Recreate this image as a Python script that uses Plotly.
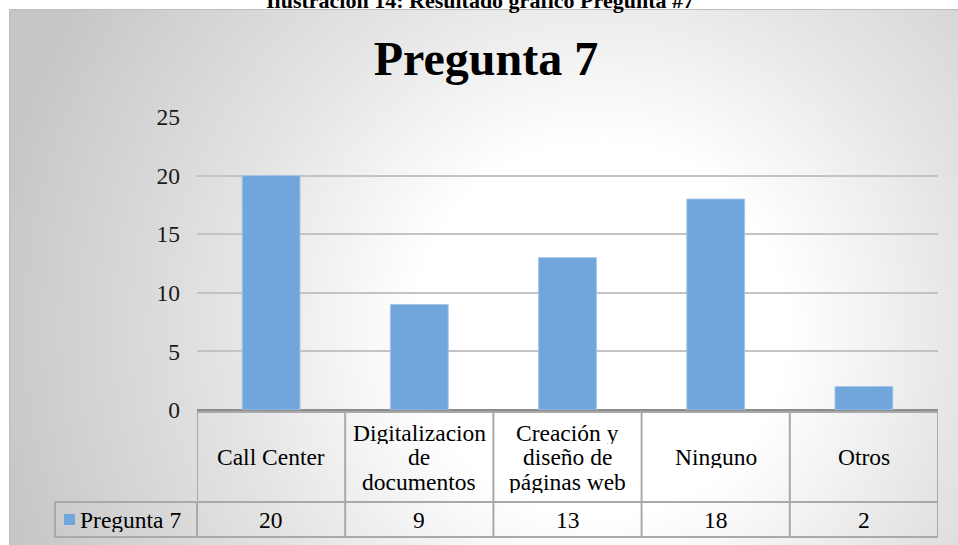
import base64
import plotly.graph_objects as go

# Data
categories = ["Call Center", "Digitalizacion de documentos", "Creación y diseño de páginas web", "Ninguno", "Otros"]
header_lines = [["Call Center"], ["Digitalizacion", "de", "documentos"], ["Creación y", "diseño de", "páginas web"], ["Ninguno"], ["Otros"]]
values = [20, 9, 13, 18, 2]
series_name = "Pregunta 7"
y_ticks = [0, 5, 10, 15, 20, 25]

W, H = 958, 545
FONT = "Times New Roman, Liberation Serif, serif"
BAR = "#70a6dc"
GRID = "#c3c3c3"
TLINE = "#a9a9a9"


def px(x):
    return x / W


def py(y):
    return 1 - y / H


# radial grey background like the office chart style
svg = """<svg xmlns='http://www.w3.org/2000/svg' width='948' height='536'>
<defs><radialGradient id='g' gradientUnits='userSpaceOnUse' cx='590' cy='320' r='620'>
<stop offset='0' stop-color='#ffffff'/><stop offset='0.3' stop-color='#ffffff'/>
<stop offset='0.6' stop-color='#e4e4e4'/><stop offset='1' stop-color='#c6c6c6'/>
</radialGradient></defs><rect width='948' height='536' fill='url(#g)'/></svg>"""
bg_src = "data:image/svg+xml;base64," + base64.b64encode(svg.encode()).decode()

fig = go.Figure()
fig.add_trace(go.Bar(x=categories, y=values, name=series_name,
                     marker=dict(color=BAR, line=dict(color="#a3c6e8", width=1)),
                     width=0.39, hoverinfo="x+y"))

shapes = []
annotations = []

# table grid (x in category units, y in paper)
top, mid, bot = py(412), py(502), py(537)
shapes.append(dict(type="line", xref="x", yref="paper", x0=-0.5, x1=4.5, y0=top, y1=top,
                   line=dict(color=TLINE, width=2)))
for yy in (mid, bot):
    shapes.append(dict(type="line", xref="x", yref="paper", x0=-0.5, x1=4.5, y0=yy, y1=yy,
                       line=dict(color=TLINE, width=2)))
for k in range(len(categories) + 1):
    shapes.append(dict(type="line", xref="x", yref="paper", x0=k - 0.5, x1=k - 0.5, y0=top, y1=bot,
                       line=dict(color=TLINE, width=2)))
# legend cell sits left of the plot area, so paper coords
shapes.append(dict(type="rect", xref="paper", yref="paper", x0=px(55), x1=px(197), y0=bot, y1=mid,
                   line=dict(color=TLINE, width=2)))

txt_font = dict(family=FONT, size=23.5, color="#000000")

# header text, one annotation per line for tight spacing
for i, lines in enumerate(header_lines):
    n = len(lines)
    for j, t in enumerate(lines):
        yc = 457 + (j - (n - 1) / 2) * 24.5
        annotations.append(dict(x=i, xref="x", y=py(yc), yref="paper", text=t, showarrow=False,
                                xanchor="center", yanchor="middle", height=22, borderpad=0,
                                font=txt_font))
# value row
for i, v in enumerate(values):
    annotations.append(dict(x=i, xref="x", y=py(520), yref="paper", text=str(v), showarrow=False,
                            xanchor="center", yanchor="middle", height=24, borderpad=0, font=txt_font))
# legend key
shapes.append(dict(type="rect", xref="paper", yref="paper", x0=px(64), x1=px(75), y0=py(525), y1=py(514),
                   fillcolor=BAR, line=dict(width=0)))
annotations.append(dict(x=px(79), xref="paper", y=py(520), yref="paper", text=series_name, showarrow=False,
                        xanchor="left", yanchor="middle", height=24, borderpad=0, font=txt_font))

# chart box edge
shapes.append(dict(type="rect", xref="paper", yref="paper", x0=px(9.5), x1=px(960), y0=py(9.5), y1=py(548),
                   line=dict(color="#bdbdbd", width=1), layer="below"))

# caption of the document, cropped at the top as in the source
annotations.append(dict(x=px(480), y=1.0, xref="paper", yref="paper",
                        text="<b>Ilustración 14: Resultado gráfico Pregunta #7</b>", showarrow=False,
                        xanchor="center", yanchor="middle",
                        font=dict(family=FONT, size=22, color="#000000")))

fig.update_layout(
    width=W, height=H,
    margin=dict(l=0, r=0, t=0, b=0, autoexpand=False),
    paper_bgcolor="white",
    plot_bgcolor="rgba(0,0,0,0)",
    showlegend=False,
    title=dict(text="<b>Pregunta 7</b>", x=px(486), y=py(58), xanchor="center", yanchor="middle",
               font=dict(family=FONT, size=48, color="#000000")),
    images=[dict(source=bg_src, xref="paper", yref="paper", x=px(10), y=py(10),
                 sizex=px(948), sizey=535 / H, sizing="stretch", layer="below")],
    shapes=shapes,
    annotations=annotations,
    xaxis=dict(domain=[px(197), px(938)], range=[-0.5, 4.5], showticklabels=False, ticks="",
               showgrid=False, zeroline=False, showline=False, fixedrange=True, automargin=False),
    yaxis=dict(domain=[py(410), py(117)], range=[0, 25], tickvals=y_ticks, ticks="",
               showgrid=True, gridcolor=GRID, gridwidth=1.5, zeroline=True, zerolinecolor="#8c8c8c",
               zerolinewidth=2, showline=False, ticklabelstandoff=16, fixedrange=True, automargin=False,
               tickfont=dict(family=FONT, size=23.5, color="#1a1a1a")),
)

fig.write_html("out.html", config={"displayModeBar": False},
               post_script="document.body.style.margin='0';")
